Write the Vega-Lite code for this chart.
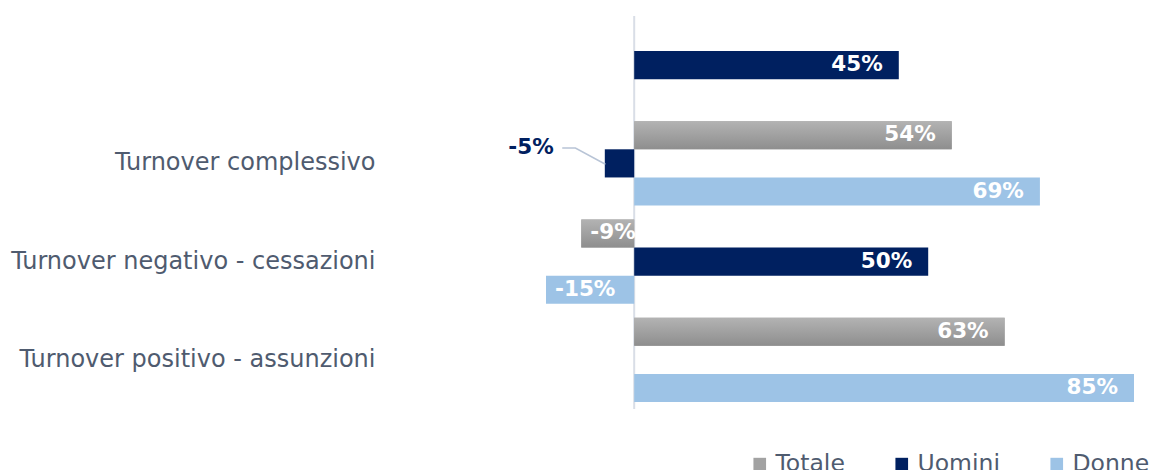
{
  "$schema": "https://vega.github.io/schema/vega-lite/v6.json",
  "width": 735,
  "height": 393,
  "autosize": {"type": "none"},
  "padding": {"left": 399, "top": 16, "right": 21, "bottom": 61},
  "background": "white",
  "config": {
    "view": {"stroke": null},
    "font": "DejaVu Sans",
    "locale": {"number": {"decimal": ".", "thousands": ",", "grouping": [3], "currency": ["", ""], "minus": "-", "percent": "%"}}
  },
  "data": {
    "values": [
      {"cat": " ", "s": "Uomini", "v": 0.45},
      {"cat": "Turnover complessivo", "s": "Totale", "v": 0.54},
      {"cat": "Turnover complessivo", "s": "Uomini", "v": -0.05},
      {"cat": "Turnover complessivo", "s": "Donne", "v": 0.69},
      {"cat": "Turnover negativo - cessazioni", "s": "Totale", "v": -0.09},
      {"cat": "Turnover negativo - cessazioni", "s": "Uomini", "v": 0.50},
      {"cat": "Turnover negativo - cessazioni", "s": "Donne", "v": -0.15},
      {"cat": "Turnover positivo - assunzioni", "s": "Totale", "v": 0.63},
      {"cat": "Turnover positivo - assunzioni", "s": "Donne", "v": 0.85}
    ]
  },
  "encoding": {
    "x": {"field": "v", "type": "quantitative", "scale": {"domain": [-0.4, 0.85], "nice": false, "zero": false}, "axis": null},
    "y": {
      "field": "cat", "type": "nominal",
      "scale": {"domain": [" ", "Turnover complessivo", "Turnover negativo - cessazioni", "Turnover positivo - assunzioni"], "paddingInner": 0.14, "paddingOuter": 0.07},
      "axis": {"title": null, "domain": false, "ticks": false, "labelPadding": 24, "labelLimit": 500, "labelFont": "DejaVu Sans", "labelFontSize": 24, "labelColor": "#4f5b6f"}
    },
    "yOffset": {"field": "s", "type": "nominal", "scale": {"type": "band", "domain": ["Totale", "Uomini", "Donne"], "paddingInner": 0, "paddingOuter": 0}}
  },
  "layer": [
    {
      "data": {"values": [{"z": 0}]},
      "mark": {"type": "rule", "color": "#d9dee7", "strokeWidth": 2},
      "encoding": {"x": {"field": "z", "type": "quantitative"}, "y": null, "yOffset": null}
    },
    {
      "mark": {"type": "bar"},
      "encoding": {
        "color": {
          "field": "s", "type": "nominal",
          "scale": {"domain": ["Totale", "Uomini", "Donne"], "range": ["#a2a2a2", "#002060", "#9dc3e6"]},
          "legend": {"title": null, "orient": "none", "direction": "horizontal", "legendX": 349, "legendY": 436, "padding": 0, "symbolType": "square", "symbolSize": 160, "symbolStrokeWidth": 0, "labelFont": "DejaVu Sans", "labelFontSize": 23.5, "labelColor": "#4f5b6f", "labelOffset": 4, "columnPadding": 45}
        }
      }
    },
    {
      "transform": [{"filter": "datum.s === 'Totale'"}],
      "mark": {"type": "bar", "color": {"gradient": "linear", "x1": 0, "y1": 0, "x2": 0, "y2": 1, "stops": [{"offset": 0, "color": "#b3b3b3"}, {"offset": 1, "color": "#8e8e8e"}]}}
    },
    {
      "transform": [{"filter": "datum.v > 0"}],
      "mark": {"type": "text", "align": "right", "baseline": "middle", "dx": -16, "font": "DejaVu Sans", "fontWeight": "bold", "fontSize": 21.5, "color": "white"},
      "encoding": {"text": {"field": "v", "type": "quantitative", "format": ".0%"}}
    },
    {
      "transform": [{"filter": "datum.v < -0.07"}],
      "mark": {"type": "text", "align": "left", "baseline": "middle", "dx": 9, "font": "DejaVu Sans", "fontWeight": "bold", "fontSize": 21.5, "color": "white"},
      "encoding": {"text": {"field": "v", "type": "quantitative", "format": ".0%"}}
    },
    {
      "transform": [{"filter": "datum.v < 0 && datum.v > -0.07"}],
      "mark": {"type": "text", "align": "right", "baseline": "middle", "dx": -51, "dy": -15, "font": "DejaVu Sans", "fontWeight": "bold", "fontSize": 21.5, "color": "#002060"},
      "encoding": {"text": {"field": "v", "type": "quantitative", "format": ".0%"}}
    },
    {
      "data": {
        "values": [
          {"cat": "Turnover complessivo", "lx": -0.1224, "ly": 0.318},
          {"cat": "Turnover complessivo", "lx": -0.100, "ly": 0.318},
          {"cat": "Turnover complessivo", "lx": -0.049, "ly": 0.51}
        ]
      },
      "mark": {"type": "line", "color": "#b8c4d6", "strokeWidth": 1.5},
      "encoding": {
        "x": {"field": "lx", "type": "quantitative"},
        "y": {"field": "cat", "type": "nominal"},
        "yOffset": {"field": "ly", "type": "quantitative", "scale": {"type": "linear", "domain": [0, 1], "range": [0, 84.5]}}
      }
    }
  ],
  "resolve": {"scale": {"yOffset": "independent"}}
}
